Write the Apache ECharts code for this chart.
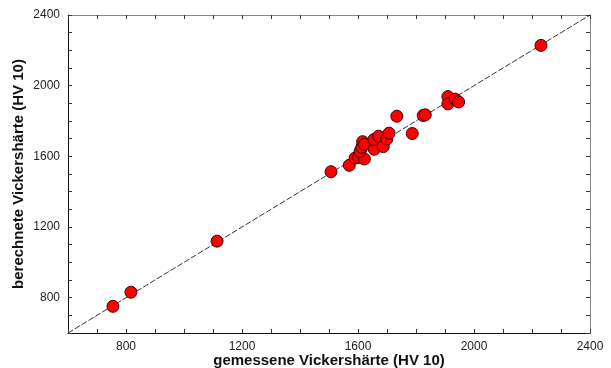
<!DOCTYPE html>
<html><head><meta charset="utf-8">
<script src="https://cdn.jsdelivr.net/npm/echarts@6/dist/echarts.min.js"></script>
<style>html,body{margin:0;padding:0;background:#fff}#c{width:611px;height:368px}</style>
</head><body><div id="c"></div>
<script>
const measured = [755,817,1114,1507,1570,1590,1602,1622,1607,1613,1616,1622,1656,1655,1671,1687,1699,1707,1734,1787,1825,1832,1910,1910,1935,1947,2231];
const calculated = [751,831,1120,1513,1549,1590,1594,1585,1628,1651,1683,1668,1640,1695,1714,1655,1697,1731,1827,1729,1831,1835,1938,1897,1924,1908,2228];
const axisMin = 600, axisMax = 2400, tickStep = 100, labelStep = 400;
const refLine = [[600,600],[2400,2400]];
const xTitle = 'gemessene Vickershärte (HV 10)';
const yTitle = 'berechnete Vickershärte (HV 10)';

const pts = measured.map((v,i)=>[v, calculated[i]]);
const fmt = v => (v % labelStep === 0 && v !== axisMin) ? String(v) : '';
const font = 'Liberation Sans, Arial, sans-serif';
function ax(pos, show, lineColor){
  return {
    type:'value', position:pos, min:axisMin, max:axisMax, interval:tickStep,
    axisLine:{show:true, onZero:false, lineStyle:{color:lineColor, width:1}},
    axisTick:{show:true, inside:true, length:4, lineStyle:{color:'#333'}},
    axisLabel:{show:show, formatter:fmt, color:'#222', fontSize:12, fontFamily:font, margin:8},
    splitLine:{show:false}
  };
}
const xMain = Object.assign(ax('bottom', true, '#111'), {
  name:xTitle, nameLocation:'middle', nameGap:20, nameMoveOverlap:false,
  nameTextStyle:{fontWeight:'bold', fontSize:15, color:'#111', fontFamily:font}
});
const yMain = Object.assign(ax('left', true, '#111'), {
  name:yTitle, nameLocation:'middle', nameGap:42, nameMoveOverlap:false,
  nameTextStyle:{fontWeight:'bold', fontSize:15, color:'#111', fontFamily:font}
});
const chart = echarts.init(document.getElementById('c'), null, {renderer:'canvas'});
chart.setOption({
  animation:false,
  grid:{left:68, right:21, top:15, bottom:35, containLabel:false, outerBoundsMode:'none'},
  xAxis:[xMain, ax('top', false, '#888')],
  yAxis:[yMain, ax('right', false, '#888')],
  series:[
    {type:'line', data:refLine, showSymbol:false, symbol:'none', xAxisIndex:0, yAxisIndex:0,
     lineStyle:{color:'#333', width:1, type:[6,2]}, silent:true, z:1},
    {type:'scatter', data:pts, xAxisIndex:0, yAxisIndex:0, symbolSize:12,
     itemStyle:{color:'#ff0000', borderColor:'#3a0000', borderWidth:1, opacity:1}, z:2}
  ]
});
</script></body></html>
